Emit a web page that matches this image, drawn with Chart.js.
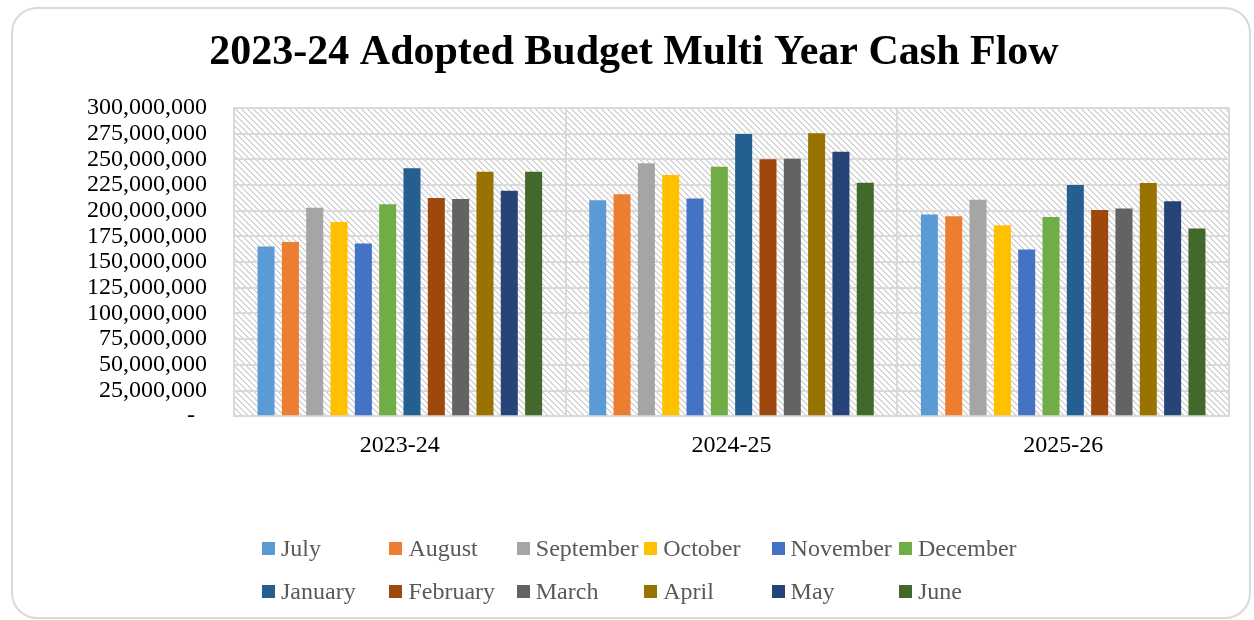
<!DOCTYPE html>
<html>
<head>
<meta charset="utf-8">
<script src="https://cdn.jsdelivr.net/npm/chart.js@4.4.1/dist/chart.umd.min.js"></script>
<style>
  html, body { margin: 0; padding: 0; background: #ffffff; }
  body { width: 1254px; height: 620px; position: relative; overflow: hidden; }
  #frame { position: absolute; left: 11px; top: 7px; width: 1240px; height: 612px; border: 2px solid #d9d9d9; border-radius: 26px; box-sizing: border-box; }
  #wrap { position: absolute; left: 0; top: 0; width: 1254px; height: 620px; }
  #legend { position: absolute; left: 262px; top: 532px; display: grid; grid-template-columns: repeat(6, 127.4px); grid-auto-rows: 43px; font-family: "Liberation Serif", "Times New Roman", serif; font-size: 24px; color: #595959; }
  .li { display: flex; align-items: center; white-space: nowrap; height: 32px; }
  .sw { width: 13px; height: 13px; margin-right: 6px; flex: none; }
</style>
</head>
<body>
<div id="frame"></div>
<div id="wrap"><canvas id="c" width="1254" height="620"></canvas></div>
<div id="legend"></div>
<script>
const titleText = "2023-24 Adopted Budget Multi Year Cash Flow";
const categories = ["2023-24", "2024-25", "2025-26"];
const months = ["July", "August", "September", "October", "November", "December", "January", "February", "March", "April", "May", "June"];
const monthColors = ["#5B9BD5", "#ED7D31", "#A5A5A5", "#FFC000", "#4472C4", "#70AD47", "#255E91", "#9E480E", "#636363", "#997300", "#264478", "#43682B"];

// values by month, one entry per fiscal year
const july      = [165300000, 210300000, 196300000];
const august    = [169500000, 216100000, 194600000];
const september = [203000000, 246200000, 210600000];
const october   = [189000000, 234700000, 185800000];
const november  = [168000000, 212000000, 162300000];
const december  = [206400000, 242800000, 194000000];
const january   = [241300000, 274800000, 225000000];
const february  = [212500000, 250000000, 200800000];
const march     = [211500000, 250700000, 202100000];
const april     = [238000000, 275500000, 226900000];
const may       = [219400000, 257500000, 209300000];
const june      = [238000000, 227200000, 182600000];
const seriesValues = [july, august, september, october, november, december, january, february, march, april, may, june];

const yMax = 300000000;
const yStep = 25000000;

const serif = "'Liberation Serif', 'Times New Roman', serif";

function makeHatch() {
  const t = document.createElement('canvas');
  t.width = 6; t.height = 6;
  const g = t.getContext('2d');
  g.fillStyle = '#ffffff';
  g.fillRect(0, 0, 6, 6);
  g.fillStyle = '#d6d6d6';
  for (let i = 0; i < 6; i++) {
    g.fillRect(i, i, 1, 1);
    g.fillRect((i + 1) % 6, i, 1, 1);
  }
  return document.getElementById('c').getContext('2d').createPattern(t, 'repeat');
}

const hatchPlugin = {
  id: 'hatch',
  beforeDraw(chart) {
    const a = chart.chartArea;
    const ctx = chart.ctx;
    ctx.save();
    ctx.fillStyle = makeHatch();
    ctx.fillRect(a.left, a.top, a.right - a.left, a.bottom - a.top);
    ctx.restore();
  }
};

const titlePlugin = {
  id: 'titleText',
  afterDraw(chart) {
    const ctx = chart.ctx;
    ctx.save();
    ctx.font = "bold 42px " + serif;
    ctx.fillStyle = '#000000';
    ctx.textAlign = 'center';
    ctx.textBaseline = 'middle';
    ctx.fillText(titleText, 634, 53);
    ctx.restore();
  }
};

const chart = new Chart(document.getElementById('c'), {
  type: 'bar',
  data: {
    labels: categories,
    datasets: months.map((m, i) => ({
      label: m,
      data: seriesValues[i],
      backgroundColor: monthColors[i],
      borderWidth: 0,
      barPercentage: 0.7,
      categoryPercentage: 0.88
    }))
  },
  options: {
    responsive: false,
    animation: false,
    layout: { padding: { left: 0, right: 25, top: 108, bottom: 145 } },
    plugins: {
      legend: { display: false },
      tooltip: { enabled: false },
      title: { display: false }
    },
    scales: {
      x: {
        offset: true,
        grid: { offset: true, color: '#d9d9d9', lineWidth: 2, drawTicks: false },
        border: { color: '#d9d9d9', width: 2 },
        ticks: { color: '#000000', font: { family: serif, size: 24 }, padding: 15 }
      },
      y: {
        min: 0,
        max: yMax,
        afterFit(scale) { scale.width = 234; },
        grid: { color: '#d9d9d9', lineWidth: 2, drawTicks: false },
        border: { color: '#d9d9d9', width: 2 },
        ticks: {
          stepSize: yStep,
          autoSkip: false,
          color: '#000000',
          padding: 27,
          font: { family: serif, size: 24 },
          callback: (v) => v === 0 ? '-  ' : v.toLocaleString('en-US')
        }
      }
    }
  },
  plugins: [hatchPlugin, titlePlugin]
});

const legend = document.getElementById('legend');
chart.data.datasets.forEach((ds) => {
  const d = document.createElement('div');
  d.className = 'li';
  const s = document.createElement('span');
  s.className = 'sw';
  s.style.background = ds.backgroundColor;
  const t = document.createElement('span');
  t.textContent = ds.label;
  d.appendChild(s); d.appendChild(t);
  legend.appendChild(d);
});
</script>
</body>
</html>
